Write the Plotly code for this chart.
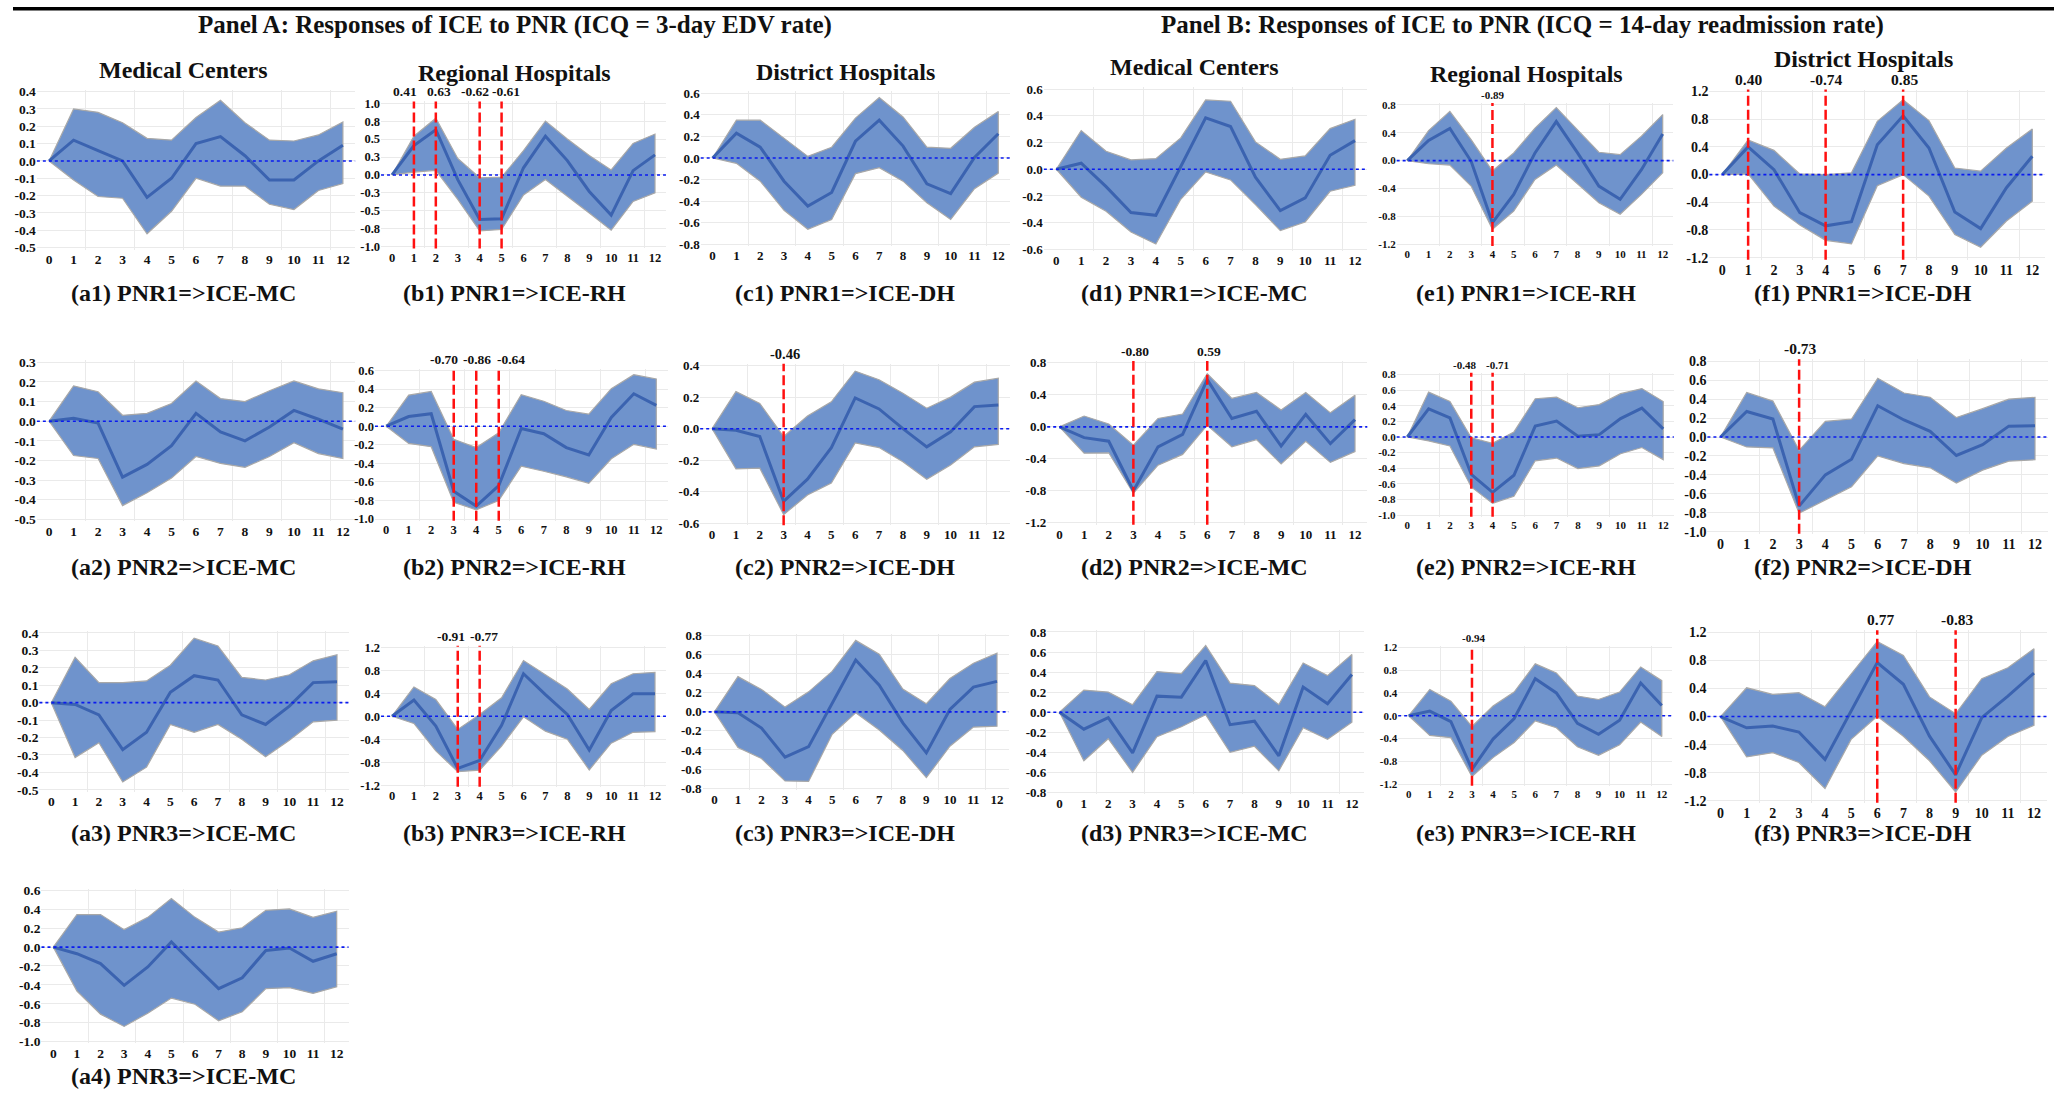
import plotly.graph_objects as go

W, H = 2069, 1093
LAGS = list(range(13))

# ---------------- y tick sets ----------------
T_M05_04 = [-0.5, -0.4, -0.3, -0.2, -0.1, 0.0, 0.1, 0.2, 0.3, 0.4]
T_M05_03 = [-0.5, -0.4, -0.3, -0.2, -0.1, 0.0, 0.1, 0.2, 0.3]
T_B1 = [-1.0, -0.75, -0.5, -0.25, 0.0, 0.25, 0.5, 0.75, 1.0]
T_B1_TEXT = ["-1.0", "-0.8", "-0.5", "-0.3", "0.0", "0.3", "0.5", "0.8", "1.0"]
T_M08_06 = [-0.8, -0.6, -0.4, -0.2, 0.0, 0.2, 0.4, 0.6]
T_M06_06 = [-0.6, -0.4, -0.2, 0.0, 0.2, 0.4, 0.6]
T_M12_08_S4 = [-1.2, -0.8, -0.4, 0.0, 0.4, 0.8]
T_M12_12_S4 = [-1.2, -0.8, -0.4, 0.0, 0.4, 0.8, 1.2]
T_M10_06 = [-1.0, -0.8, -0.6, -0.4, -0.2, 0.0, 0.2, 0.4, 0.6]
T_M06_04 = [-0.6, -0.4, -0.2, 0.0, 0.2, 0.4]
T_M10_08 = [-1.0, -0.8, -0.6, -0.4, -0.2, 0.0, 0.2, 0.4, 0.6, 0.8]
T_M08_08 = [-0.8, -0.6, -0.4, -0.2, 0.0, 0.2, 0.4, 0.6, 0.8]

# ---------------- Panel A, row 1 ----------------
A1_MID = [0, 0.12, 0.06, 0.0, -0.21, -0.10, 0.10, 0.14, 0.03, -0.11, -0.11, 0.0, 0.09]
A1_HI = [0, 0.30, 0.28, 0.22, 0.13, 0.12, 0.25, 0.35, 0.22, 0.12, 0.115, 0.15, 0.225]
A1_LO = [0, -0.11, -0.205, -0.215, -0.42, -0.29, -0.10, -0.145, -0.145, -0.25, -0.28, -0.17, -0.13]

B1_MID = [0, 0.41, 0.63, -0.065, -0.62, -0.61, 0.10, 0.54, 0.20, -0.23, -0.56, 0.06, 0.28]
B1_HI = [0, 0.54, 0.79, 0.23, -0.04, -0.03, 0.34, 0.75, 0.50, 0.27, 0.07, 0.44, 0.57]
B1_LO = [0, 0.04, 0.065, -0.34, -0.78, -0.76, -0.28, -0.065, -0.30, -0.53, -0.77, -0.37, -0.25]
B1_MARKS = [1, 2, 4, 5]
B1_MARK_TEXT = ["0.41", "0.63", "-0.62", "-0.61"]

C1_MID = [0, 0.23, 0.10, -0.215, -0.445, -0.32, 0.155, 0.35, 0.11, -0.24, -0.33, 0.005, 0.225]
C1_HI = [0, 0.35, 0.35, 0.185, 0.015, 0.10, 0.37, 0.56, 0.38, 0.10, 0.09, 0.285, 0.43]
C1_LO = [0, -0.05, -0.215, -0.485, -0.66, -0.57, -0.145, -0.09, -0.215, -0.415, -0.57, -0.285, -0.14]

# ---------------- Panel B, row 1 ----------------
D1_MID = [0, 0.045, -0.13, -0.325, -0.345, 0.025, 0.385, 0.32, -0.06, -0.31, -0.215, 0.105, 0.215]
D1_HI = [0, 0.29, 0.135, 0.07, 0.08, 0.235, 0.52, 0.51, 0.205, 0.075, 0.10, 0.305, 0.375]
D1_LO = [0, -0.21, -0.315, -0.47, -0.56, -0.225, -0.02, -0.08, -0.265, -0.46, -0.395, -0.165, -0.12]

E1_MID = [0, 0.29, 0.46, -0.01, -0.89, -0.485, 0.11, 0.56, 0.11, -0.365, -0.555, -0.13, 0.38]
E1_HI = [0, 0.43, 0.705, 0.30, -0.15, 0.11, 0.465, 0.76, 0.44, 0.12, 0.085, 0.35, 0.66]
E1_LO = [0, -0.045, -0.065, -0.365, -0.985, -0.725, -0.27, -0.065, -0.34, -0.605, -0.77, -0.485, -0.175]
E1_MARKS = [4]
E1_MARK_TEXT = ["-0.89"]

F1_MID = [0, 0.40, 0.07, -0.55, -0.74, -0.68, 0.43, 0.85, 0.385, -0.54, -0.78, -0.19, 0.265]
F1_HI = [0, 0.50, 0.35, 0.01, 0.0, 0.025, 0.77, 1.08, 0.78, 0.095, 0.05, 0.385, 0.66]
F1_LO = [0, 0.01, -0.455, -0.73, -0.95, -1.0, -0.16, 0.0, -0.31, -0.865, -1.05, -0.67, -0.385]
F1_MARKS = [1, 4, 7]
F1_MARK_TEXT = ["0.40", "-0.74", "0.85"]

# ---------------- row 2 ----------------
A2_MID = [0, 0.015, -0.01, -0.285, -0.22, -0.125, 0.04, -0.055, -0.10, -0.03, 0.055, 0.01, -0.04]
A2_HI = [0, 0.18, 0.15, 0.03, 0.04, 0.09, 0.205, 0.115, 0.10, 0.155, 0.205, 0.165, 0.145]
A2_LO = [0, -0.175, -0.19, -0.43, -0.365, -0.29, -0.18, -0.215, -0.235, -0.18, -0.11, -0.165, -0.19]

B2_MID = [0, 0.105, 0.135, -0.70, -0.86, -0.64, -0.025, -0.08, -0.23, -0.31, 0.095, 0.35, 0.225]
B2_HI = [0, 0.335, 0.375, -0.14, -0.23, -0.07, 0.34, 0.27, 0.17, 0.13, 0.405, 0.555, 0.51]
B2_LO = [0, -0.185, -0.22, -0.82, -0.90, -0.80, -0.43, -0.485, -0.545, -0.615, -0.35, -0.195, -0.245]
B2_MARKS = [3, 4, 5]
B2_MARK_TEXT = ["-0.70", "-0.86", "-0.64"]

C2_MID = [0, -0.01, -0.05, -0.46, -0.32, -0.12, 0.195, 0.125, 0.0, -0.115, -0.02, 0.14, 0.15]
C2_HI = [0, 0.235, 0.16, -0.05, 0.08, 0.17, 0.365, 0.31, 0.225, 0.13, 0.20, 0.295, 0.32]
C2_LO = [0, -0.255, -0.25, -0.545, -0.42, -0.345, -0.09, -0.12, -0.21, -0.32, -0.23, -0.115, -0.10]
C2_MARKS = [3]
C2_MARK_TEXT = ["-0.46"]

D2_MID = [0, -0.135, -0.18, -0.80, -0.25, -0.095, 0.59, 0.105, 0.195, -0.24, 0.155, -0.21, 0.09]
D2_HI = [0, 0.135, 0.035, -0.23, 0.105, 0.16, 0.665, 0.355, 0.43, 0.21, 0.43, 0.175, 0.395]
D2_LO = [0, -0.33, -0.325, -0.83, -0.48, -0.345, 0.02, -0.25, -0.16, -0.465, -0.18, -0.445, -0.31]
D2_MARKS = [3, 6]
D2_MARK_TEXT = ["-0.80", "0.59"]

E2_MID = [0, 0.36, 0.245, -0.48, -0.71, -0.49, 0.14, 0.205, 0.01, 0.03, 0.235, 0.37, 0.105]
E2_HI = [0, 0.575, 0.455, -0.01, -0.08, 0.065, 0.49, 0.51, 0.375, 0.415, 0.555, 0.62, 0.455]
E2_LO = [0, -0.05, -0.115, -0.64, -0.85, -0.76, -0.305, -0.27, -0.405, -0.37, -0.215, -0.135, -0.29]
E2_MARKS = [3, 4]
E2_MARK_TEXT = ["-0.48", "-0.71"]

F2_MID = [0, 0.27, 0.19, -0.73, -0.40, -0.235, 0.33, 0.18, 0.06, -0.195, -0.08, 0.115, 0.12]
F2_HI = [0, 0.47, 0.38, -0.14, 0.165, 0.19, 0.62, 0.465, 0.42, 0.205, 0.30, 0.40, 0.42]
F2_LO = [0, -0.105, -0.115, -0.805, -0.665, -0.525, -0.20, -0.28, -0.325, -0.485, -0.35, -0.255, -0.24]
F2_MARKS = [3]
F2_MARK_TEXT = ["-0.73"]

# ---------------- row 3 ----------------
A3_MID = [0, -0.01, -0.07, -0.27, -0.17, 0.06, 0.155, 0.13, -0.07, -0.125, -0.02, 0.115, 0.12]
A3_HI = [0, 0.26, 0.115, 0.115, 0.125, 0.215, 0.37, 0.325, 0.145, 0.13, 0.16, 0.24, 0.275]
A3_LO = [0, -0.315, -0.23, -0.455, -0.37, -0.125, -0.17, -0.125, -0.21, -0.31, -0.215, -0.11, -0.10]

B3_MID = [0, 0.28, -0.17, -0.91, -0.77, -0.16, 0.74, 0.375, 0.03, -0.59, 0.10, 0.39, 0.39]
B3_HI = [0, 0.51, 0.29, -0.23, 0.03, 0.32, 0.97, 0.72, 0.475, 0.12, 0.565, 0.74, 0.765]
B3_LO = [0, -0.125, -0.605, -0.965, -0.94, -0.52, -0.01, -0.26, -0.40, -0.935, -0.47, -0.28, -0.27]
B3_MARKS = [3, 4]
B3_MARK_TEXT = ["-0.91", "-0.77"]

C3_MID = [0, -0.01, -0.17, -0.475, -0.365, 0.095, 0.545, 0.28, -0.115, -0.43, 0.025, 0.26, 0.32]
C3_HI = [0, 0.37, 0.235, 0.05, 0.21, 0.425, 0.75, 0.605, 0.24, 0.085, 0.35, 0.51, 0.615]
C3_LO = [0, -0.375, -0.49, -0.725, -0.73, -0.235, -0.01, -0.19, -0.405, -0.69, -0.36, -0.16, -0.15]

D3_MID = [0, -0.17, -0.055, -0.405, 0.16, 0.15, 0.515, -0.125, -0.09, -0.435, 0.25, 0.085, 0.375]
D3_HI = [0, 0.22, 0.20, 0.075, 0.405, 0.385, 0.665, 0.29, 0.265, 0.075, 0.49, 0.365, 0.575]
D3_LO = [0, -0.485, -0.265, -0.60, -0.245, -0.145, -0.025, -0.40, -0.34, -0.585, -0.155, -0.27, -0.10]

E3_MID = [0, 0.08, -0.105, -0.94, -0.41, -0.05, 0.65, 0.40, -0.135, -0.325, -0.08, 0.575, 0.18]
E3_HI = [0, 0.46, 0.255, -0.19, 0.17, 0.415, 0.91, 0.75, 0.345, 0.285, 0.415, 0.855, 0.615]
E3_LO = [0, -0.345, -0.385, -1.065, -0.735, -0.47, -0.09, -0.21, -0.545, -0.695, -0.51, -0.11, -0.365]
E3_MARKS = [3]
E3_MARK_TEXT = ["-0.94"]

F3_MID = [0, -0.16, -0.135, -0.22, -0.61, 0.08, 0.77, 0.46, -0.28, -0.83, -0.015, 0.29, 0.62]
F3_HI = [0, 0.41, 0.315, 0.34, 0.14, 0.60, 1.07, 0.87, 0.28, 0.04, 0.54, 0.695, 0.965]
F3_LO = [0, -0.575, -0.515, -0.655, -1.025, -0.325, 0.005, -0.28, -0.63, -1.075, -0.55, -0.285, -0.125]
F3_MARKS = [6, 9]
F3_MARK_TEXT = ["0.77", "-0.83"]

# ---------------- row 4 ----------------
A4_MID = [0, -0.07, -0.175, -0.405, -0.21, 0.055, -0.195, -0.44, -0.325, -0.035, -0.01, -0.15, -0.07]
A4_HI = [0, 0.345, 0.345, 0.185, 0.315, 0.515, 0.315, 0.16, 0.205, 0.39, 0.405, 0.315, 0.38]
A4_LO = [0, -0.465, -0.71, -0.84, -0.70, -0.54, -0.605, -0.78, -0.685, -0.44, -0.43, -0.49, -0.42]

# ---------------- text ----------------
PANEL_A_TITLE = "Panel A: Responses of ICE to PNR (ICQ = 3-day EDV rate)"
PANEL_B_TITLE = "Panel B: Responses of ICE to PNR (ICQ = 14-day readmission rate)"

# ---------------- layout geometry (pixels) ----------------
# box = (x of lag 0, x of lag 12, y of top tick, y of bottom tick); mshift = label nudges (px)
PANELS = [
    dict(col="a", mid=A1_MID, hi=A1_HI, lo=A1_LO, yt=T_M05_04, cap="(a1) PNR1=>ICE-MC",
         head="Medical Centers", heady=68, box=(49.1, 342.9, 90, 246.7), capy=292),
    dict(col="b", mid=B1_MID, hi=B1_HI, lo=B1_LO, yt=T_B1, ytt=T_B1_TEXT, marks=B1_MARKS, mtext=B1_MARK_TEXT,
         mshift=[-9, 3, -5, 4],
         cap="(b1) PNR1=>ICE-RH", head="Regional Hospitals", heady=71, box=(392, 655, 101.7, 245.7), capy=292),
    dict(col="c", mid=C1_MID, hi=C1_HI, lo=C1_LO, yt=T_M08_06, cap="(c1) PNR1=>ICE-DH",
         head="District Hospitals", heady=70, box=(712.6, 998.3, 91.7, 243.3), capy=292),
    dict(col="d", mid=D1_MID, hi=D1_HI, lo=D1_LO, yt=T_M06_06, cap="(d1) PNR1=>ICE-MC",
         head="Medical Centers", heady=65, box=(1056.3, 1355, 87.7, 248.3), capy=292),
    dict(col="e", mid=E1_MID, hi=E1_HI, lo=E1_LO, yt=T_M12_08_S4, marks=E1_MARKS, mtext=E1_MARK_TEXT,
         mshift=[0],
         cap="(e1) PNR1=>ICE-RH", head="Regional Hospitals", heady=72, box=(1407.3, 1662.7, 103.3, 243.3), capy=292),
    dict(col="f", mid=F1_MID, hi=F1_HI, lo=F1_LO, yt=T_M12_12_S4, marks=F1_MARKS, mtext=F1_MARK_TEXT,
         mshift=[0, 1, 1],
         cap="(f1) PNR1=>ICE-DH", head="District Hospitals", heady=57, box=(1722.3, 2032.3, 90, 256.7), capy=292),

    dict(col="a", mid=A2_MID, hi=A2_HI, lo=A2_LO, yt=T_M05_03, cap="(a2) PNR2=>ICE-MC",
         box=(49.1, 342.9, 361.7, 519.3), capy=567),
    dict(col="b", mid=B2_MID, hi=B2_HI, lo=B2_LO, yt=T_M10_06, marks=B2_MARKS, mtext=B2_MARK_TEXT,
         mshift=[-10, 1, 12],
         cap="(b2) PNR2=>ICE-RH", box=(386.2, 656.3, 370, 519), capy=567),
    dict(col="c", mid=C2_MID, hi=C2_HI, lo=C2_LO, yt=T_M06_04, marks=C2_MARKS, mtext=C2_MARK_TEXT,
         mshift=[1],
         cap="(c2) PNR2=>ICE-DH", box=(712.1, 998.3, 365, 523.3), capy=567),
    dict(col="d", mid=D2_MID, hi=D2_HI, lo=D2_LO, yt=T_M12_08_S4, marks=D2_MARKS, mtext=D2_MARK_TEXT,
         mshift=[2, 2],
         cap="(d2) PNR2=>ICE-MC", box=(1059.5, 1355, 362.3, 522.7), capy=567),
    dict(col="e", mid=E2_MID, hi=E2_HI, lo=E2_LO, yt=T_M10_08, marks=E2_MARKS, mtext=E2_MARK_TEXT,
         mshift=[-7, 5],
         cap="(e2) PNR2=>ICE-RH", box=(1407.3, 1663.2, 374, 515), capy=567),
    dict(col="f", mid=F2_MID, hi=F2_HI, lo=F2_LO, yt=T_M10_08, marks=F2_MARKS, mtext=F2_MARK_TEXT,
         mshift=[1],
         cap="(f2) PNR2=>ICE-DH", box=(1720.5, 2035, 360.7, 531.7), capy=567),

    dict(col="a", mid=A3_MID, hi=A3_HI, lo=A3_LO, yt=T_M05_04, cap="(a3) PNR3=>ICE-MC",
         box=(51.3, 337, 633.3, 790.7), capy=834),
    dict(col="b", mid=B3_MID, hi=B3_HI, lo=B3_LO, yt=T_M12_12_S4, marks=B3_MARKS, mtext=B3_MARK_TEXT,
         mshift=[-7, 4],
         cap="(b3) PNR3=>ICE-RH", box=(392, 655, 647.7, 786), capy=834),
    dict(col="c", mid=C3_MID, hi=C3_HI, lo=C3_LO, yt=T_M08_08, cap="(c3) PNR3=>ICE-DH",
         box=(714.4, 997, 636, 789), capy=834),
    dict(col="d", mid=D3_MID, hi=D3_HI, lo=D3_LO, yt=T_M08_08, cap="(d3) PNR3=>ICE-MC",
         box=(1059.5, 1351.9, 632.3, 793.3), capy=834),
    dict(col="e", mid=E3_MID, hi=E3_HI, lo=E3_LO, yt=T_M12_12_S4, marks=E3_MARKS, mtext=E3_MARK_TEXT,
         mshift=[2],
         cap="(e3) PNR3=>ICE-RH", box=(1408.7, 1661.8, 647.7, 785), capy=834),
    dict(col="f", mid=F3_MID, hi=F3_HI, lo=F3_LO, yt=T_M12_12_S4, marks=F3_MARKS, mtext=F3_MARK_TEXT,
         mshift=[3, 2],
         cap="(f3) PNR3=>ICE-DH", box=(1720.5, 2034, 632.7, 801.7), capy=834),

    dict(col="a", mid=A4_MID, hi=A4_HI, lo=A4_LO, yt=T_M10_06, cap="(a4) PNR3=>ICE-MC",
         box=(53.3, 336.7, 891.7, 1043.3), capy=1078),
]

COL_X = dict(a=183, b=514, c=845, d=1194, e=1526, f=1863)
TICK_FS = dict(a=13.5, b=12.5, c=13, d=13, e=11, f=14)
MARK_FS = dict(a=13, b=13.5, c=14.5, d=13.5, e=11, f=15.5)

FONT = "Liberation Serif"
FILL = "#6F93CC"
EDGE = "#A8A8A8"
LINE = "#3B63B0"
GRID = "#EAEAEA"

fig = go.Figure()
shapes = []
annotations = []
layout_axes = {}


def px_x(v):
    return v / W


def adj_y(v):
    # small calibration of measured vertical pixel positions
    return 1.0076 * v - 4.2


def px_y(v):
    return 1 - adj_y(v) / H


for i, p in enumerate(PANELS, start=1):
    xa = "x" if i == 1 else f"x{i}"
    ya = "y" if i == 1 else f"y{i}"
    x0, x12, ytop, ybot = p["box"]
    u = (x12 - x0) / 12.0
    xdom = [px_x(x0 - 0.5 * u), px_x(x12 + 0.5 * u)]
    yt = p["yt"]
    vmax, vmin = max(yt), min(yt)
    pad_frac = 0.012
    pad_px = pad_frac * (ybot - ytop)
    pad_v = pad_frac * (vmax - vmin)
    ydom = [px_y(ybot + pad_px), px_y(ytop - pad_px)]
    ytext = p.get("ytt") or [f"{v:.1f}" for v in yt]

    band_x = LAGS + LAGS[::-1]
    band_y = p["hi"] + p["lo"][::-1]
    fig.add_trace(go.Scatter(x=band_x, y=band_y, mode="lines", fill="toself",
                             fillcolor=FILL, line=dict(color=EDGE, width=1.2),
                             hoverinfo="skip", showlegend=False, xaxis=xa, yaxis=ya))
    fig.add_trace(go.Scatter(x=LAGS, y=p["mid"], mode="lines",
                             line=dict(color=LINE, width=3),
                             showlegend=False, xaxis=xa, yaxis=ya))

    tfs = TICK_FS[p["col"]]
    layout_axes["xaxis" if i == 1 else f"xaxis{i}"] = dict(
        domain=xdom, anchor=ya, range=[-0.5, 12.5], tickmode="array",
        tickvals=LAGS, ticktext=[str(v) for v in LAGS], showgrid=False,
        zeroline=False, showline=False, ticks="",
        tickfont=dict(family=FONT, size=tfs, color="#111", weight="bold"),
        minor=dict(tickmode="array", tickvals=[1.5, 3.5, 5.5, 7.5, 9.5, 11.5],
                   showgrid=True, gridcolor=GRID, gridwidth=1.2, ticks=""),
        fixedrange=True,
    )
    layout_axes["yaxis" if i == 1 else f"yaxis{i}"] = dict(
        domain=ydom, anchor=xa, range=[vmin - pad_v, vmax + pad_v], tickmode="array",
        tickvals=yt, ticktext=ytext, showgrid=True, gridcolor=GRID, gridwidth=1.2,
        zeroline=False, showline=False, ticks="",
        tickfont=dict(family=FONT, size=tfs, color="#111", weight="bold"),
        fixedrange=True,
    )

    # zero reference line
    shapes.append(dict(type="line", xref=f"{xa} domain", yref=ya, x0=0, x1=1, y0=0, y1=0,
                       line=dict(color="#0A1AF0", width=1.6, dash="dot"), layer="above"))

    # significant lags
    marks = p.get("marks", [])
    shifts = p.get("mshift", [0] * len(marks))
    for m, t, s in zip(marks, p.get("mtext", []), shifts):
        shapes.append(dict(type="line", xref=xa, yref=f"{ya} domain", x0=m, x1=m, y0=0, y1=1,
                           line=dict(color="#FF1010", width=2.5, dash="10px,4px"), layer="above"))
        annotations.append(dict(x=m, xref=xa, y=1, yref=f"{ya} domain", yanchor="bottom",
                                xshift=s, yshift=0, text=f"<b>{t}</b>", showarrow=False,
                                font=dict(family=FONT, size=MARK_FS[p["col"]], color="#111")))

    # caption
    cap = p["cap"].replace(">", "&gt;")
    annotations.append(dict(x=px_x(COL_X[p["col"]]), y=px_y(p["capy"]), xref="paper", yref="paper",
                            xanchor="center", yanchor="middle", text=f"<b>{cap}</b>", showarrow=False,
                            font=dict(family=FONT, size=24, color="#111")))
    if p.get("head"):
        annotations.append(dict(x=px_x(COL_X[p["col"]]), y=px_y(p["heady"]), xref="paper", yref="paper",
                                xanchor="center", yanchor="middle", text=f"<b>{p['head']}</b>",
                                showarrow=False, font=dict(family=FONT, size=24, color="#111")))

# panel titles and rule
annotations.append(dict(x=px_x(515), y=px_y(23), xref="paper", yref="paper", xanchor="center",
                        yanchor="middle", text=f"<b>{PANEL_A_TITLE}</b>", showarrow=False,
                        font=dict(family=FONT, size=25, color="#111")))
annotations.append(dict(x=px_x(1522), y=px_y(23), xref="paper", yref="paper", xanchor="center",
                        yanchor="middle", text=f"<b>{PANEL_B_TITLE}</b>", showarrow=False,
                        font=dict(family=FONT, size=25, color="#111")))
shapes.append(dict(type="line", xref="paper", yref="paper", x0=px_x(13), x1=px_x(2054),
                   y0=px_y(7), y1=px_y(7), line=dict(color="black", width=3.5)))

fig.update_layout(
    width=W, height=H, margin=dict(l=0, r=0, t=0, b=0),
    paper_bgcolor="white", plot_bgcolor="white", showlegend=False,
    shapes=shapes, annotations=annotations, **layout_axes,
)

fig.write_html("out.html", config={"displayModeBar": False},
               post_script="document.body.style.margin='0px';document.body.style.overflow='hidden';")
